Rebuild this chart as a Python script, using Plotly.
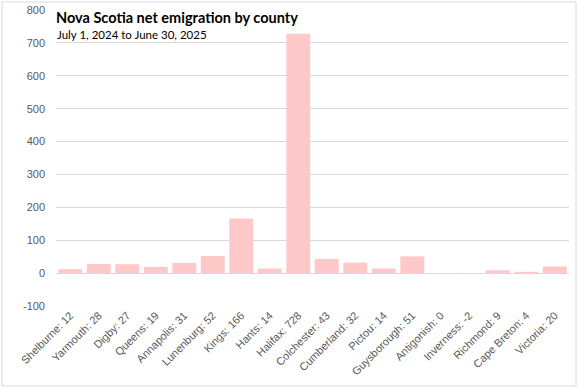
import plotly.graph_objects as go

counties = ["Shelburne", "Yarmouth", "Digby", "Queens", "Annapolis", "Lunenburg",
            "Kings", "Hants", "Halifax", "Colchester", "Cumberland", "Pictou",
            "Guysborough", "Antigonish", "Inverness", "Richmond", "Cape Breton", "Victoria"]
values = [12, 28, 27, 19, 31, 52, 166, 14, 728, 43, 32, 14, 51, 0, -2, 9, 4, 20]
labels = [f"{c}: {v}" for c, v in zip(counties, values)]
y_ticks = [-100, 0, 100, 200, 300, 400, 500, 600, 700, 800]
y_tick_text = [str(v) for v in y_ticks]

W, H = 579, 388
L, R, T, B = 56, 10, 10, 82
pw, ph = W - L - R, H - T - B

def px(x):
    return (x - L) / pw

def py(y):
    return (H - B - y) / ph

fig = go.Figure(go.Bar(x=labels, y=values, marker=dict(color="#FFC9C9", line=dict(width=0))))

fig.update_layout(
    width=W, height=H,
    margin=dict(l=L, r=R, t=T, b=B, autoexpand=False),
    paper_bgcolor="white", plot_bgcolor="white",
    bargap=0.16,
    showlegend=False,
    font=dict(family="Liberation Sans, Arial, sans-serif", size=11, color="#595959"),
    xaxis=dict(tickangle=-45, showgrid=False, showline=False, ticks="", automargin=False,
               tickfont=dict(size=11, color="#595959")),
    yaxis=dict(range=[-100, 800], tickvals=y_ticks, ticktext=y_tick_text, showgrid=True,
               gridcolor="#D9D9D9", gridwidth=1, zeroline=False, showline=False, ticks="",
               automargin=False, tickfont=dict(size=11, color="#595959"), ticklabelstandoff=10),
    annotations=[
        dict(text="<b>Nova Scotia net emigration by county</b>", xref="paper", yref="paper",
             x=px(54), y=py(18), xanchor="left", yanchor="middle", showarrow=False,
             font=dict(family="Lato, sans-serif", size=14.5, color="#000000")),
        dict(text="July 1, 2024 to June 30, 2025", xref="paper", yref="paper",
             x=px(55), y=py(35), xanchor="left", yanchor="middle", showarrow=False,
             font=dict(family="Lato, sans-serif", size=11.5, color="#000000")),
    ],
    shapes=[dict(type="rect", xref="paper", yref="paper",
                 x0=px(2), x1=px(576), y0=py(386), y1=py(2),
                 line=dict(color="#D9D9D9", width=1), fillcolor="rgba(0,0,0,0)", layer="below")],
)

fig.write_html("out.html", config={"displayModeBar": False},
               post_script="document.body.style.margin='0';")
